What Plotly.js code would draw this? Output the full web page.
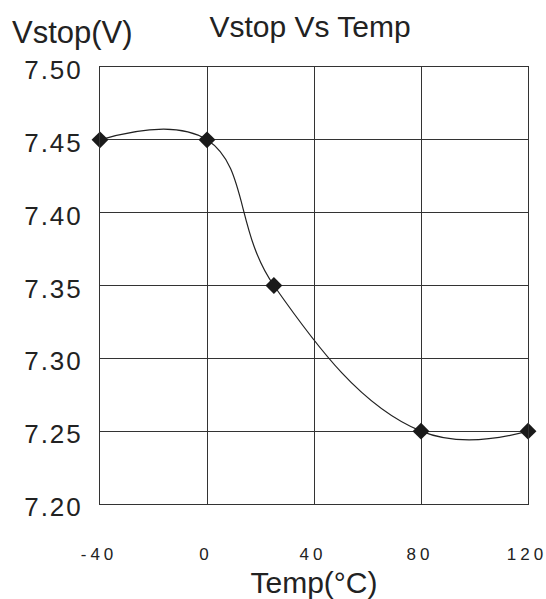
<!DOCTYPE html>
<html>
<head>
<meta charset="utf-8">
<script src="https://cdn.plot.ly/plotly-3.0.1.min.js"></script>
<style>
html,body{margin:0;padding:0;background:#fff;}
#chart{width:546px;height:599px;}
.xtick text{letter-spacing:4px;}
.ytick text{letter-spacing:2px;}
</style>
</head>
<body>
<div id="chart"></div>
<script>
const temps = [-40, 0, 25, 80, 120];
const vstop = [7.45, 7.45, 7.35, 7.25, 7.25];
const xTicks = [-40, 0, 40, 80, 120];
const yTicks = [7.20, 7.25, 7.30, 7.35, 7.40, 7.45, 7.50];
const yTickText = ['7.20', '7.25', '7.30', '7.35', '7.40', '7.45', '7.50'];

const trace = {
  x: temps,
  y: vstop,
  mode: 'lines+markers',
  line: {shape: 'spline', smoothing: 1.2, color: '#222', width: 1.2},
  marker: {symbol: 'diamond', size: 13, color: '#1a1a1a'},
  cliponaxis: false,
  hoverinfo: 'skip'
};

const fontFam = 'Liberation Sans, Arial, sans-serif';
const layout = {
  width: 546, height: 599,
  margin: {l: 100, r: 18, t: 67, b: 95},
  paper_bgcolor: '#fff', plot_bgcolor: '#fff',
  showlegend: false,
  font: {family: fontFam, color: '#222'},
  title: {text: 'Vstop Vs Temp', font: {size: 30, color: '#222', family: fontFam}, x: 0.568, xanchor: 'center', y: 0.955, yanchor: 'middle'},
  xaxis: {
    range: [-40, 120], tickvals: xTicks, ticktext: xTicks.map(String),
    showgrid: true, gridcolor: '#333', gridwidth: 1,
    zeroline: false, showline: true, linecolor: '#333', linewidth: 1, mirror: true,
    ticks: '', ticklabelstandoff: 35, ticklabelshift: -1, ticklabeloverflow: 'allow',
    tickfont: {size: 17, color: '#222', family: fontFam},
    title: {text: 'Temp(°C)', font: {size: 30, color: '#222'}, standoff: 10}
  },
  yaxis: {
    range: [7.20, 7.50], tickvals: yTicks, ticktext: yTickText,
    showgrid: true, gridcolor: '#333', gridwidth: 1,
    zeroline: false, showline: true, linecolor: '#333', linewidth: 1, mirror: true,
    ticks: '', ticklabelstandoff: 11, ticklabelshift: 3, ticklabeloverflow: 'allow',
    tickfont: {size: 26, color: '#222', family: fontFam}
  },
  annotations: [{
    text: 'Vstop(V)', xref: 'paper', yref: 'paper', x: -0.21, y: 1.079,
    xanchor: 'left', yanchor: 'middle', showarrow: false,
    font: {size: 31, color: '#222', family: fontFam}
  }]
};

Plotly.newPlot('chart', [trace], layout, {displayModeBar: false, staticPlot: true});
</script>
</body>
</html>
